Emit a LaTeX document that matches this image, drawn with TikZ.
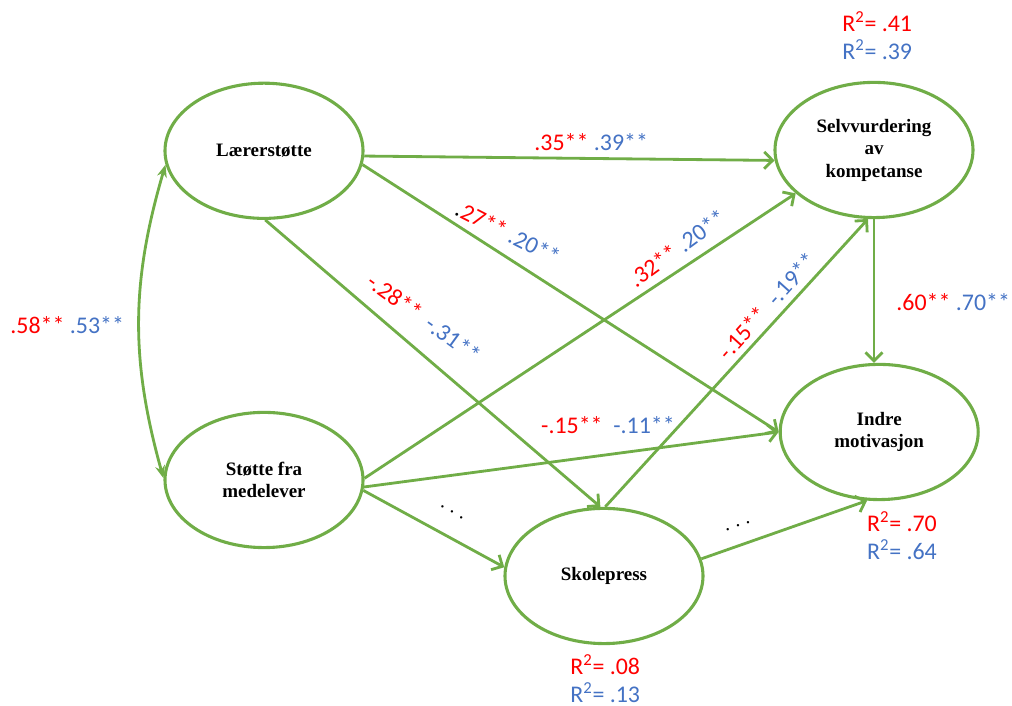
\documentclass[tikz,border=0pt]{standalone}
\usepackage{fontspec}
\setmainfont{Carlito}
\newfontfamily\factorfont{Liberation Serif}
\usetikzlibrary{shapes.geometric,arrows.meta}
\definecolor{pathgreen}{HTML}{70AD47}
\definecolor{coefred}{HTML}{FF0000}
\definecolor{coefblue}{HTML}{4472C4}
\newcommand{\redval}[1]{\textcolor{coefred}{#1}}
\newcommand{\blueval}[1]{\textcolor{coefblue}{#1}}

\begin{document}
\begin{tikzpicture}[
	% Define the style for the latent variables
	factor/.style={ellipse, draw=pathgreen, line width=2.2pt, minimum width=4.95cm, minimum height=3.38cm, inner sep=0pt, align=center, font=\factorfont\bfseries\fontsize{13.5}{16}\selectfont},
	% Define the style for the coefficients
	coef/.style={inner sep=1pt, align=center, font=\fontsize{17}{20}\selectfont},
	% Define the style for the paths
	effect/.style={draw=pathgreen, line width=2pt, -{Straight Barb[length=6pt,width=12pt]}},
	corr/.style={draw=pathgreen, line width=2pt, {Stealth[length=9pt,width=7pt]}-{Stealth[length=9pt,width=7pt]}},
	dots/.style={font=\fontsize{14}{16}\selectfont}
	]
	\useasboundingbox (0,0) rectangle (25.3,17.65);
	
	% --- VARIABLES ---
	% Format: \node[factor] (internal_name) at (x,y) {text};
	
	\node[factor] (laerer) at (6.60, 13.88) {Lærerstøtte};
	\node[factor] (stotte) at (6.60, 5.65) {Støtte fra\\medelever};
	\node[factor] (selv) at (21.85, 13.90) {Selvvurdering\\av\\kompetanse};
	\node[factor] (indre) at (21.98, 6.85) {Indre\\motivasjon};
	\node[factor] (skole) at (15.10, 3.25) {Skolepress};
	
	% --- PATHS ---
	
	\draw[corr] (laerer.188) to[bend right=16] (stotte.179);
	\draw[effect] (laerer.-3) -- (selv.186);
	\draw[effect] (laerer.-8) -- (indre.180);
	\draw[effect] (laerer.-89) -- (skole.93);
	\draw[effect] (stotte.1) -- (selv.209);
	\draw[effect] (stotte.-4) -- (indre.180);
	\draw[effect] (stotte.-6) -- (skole.175);
	\draw[effect] (skole.89) -- (selv.265);
	\draw[effect] (selv.south) -- (selv.south |- indre.north);
	\draw[effect] (skole.10) -- (indre.260);
	
	% --- COEFFICIENTS ---
	
	\node[coef] (c1) at (14.78, 14.10) {\redval{.35**} \blueval{.39**}};
	\node[coef, rotate=-27] (c2) at (12.70, 11.83) {.\redval{27**} \blueval{.20**}};
	\node[coef, rotate=-36] (c3) at (10.60, 9.70) {\redval{-.28**}\ \ \blueval{-.31**}};
	\node[coef, rotate=36] (c4) at (16.93, 11.45) {\redval{.32**} \blueval{.20**}};
	\node[coef, rotate=48] (c5) at (19.18, 10.00) {\redval{-.15**}\ \ \blueval{-.19**}};
	\node[coef] (c6) at (23.83, 10.10) {\redval{.60**} \blueval{.70**}};
	\node[coef] (c7) at (15.20, 7.03) {\redval{-.15**}\ \ \blueval{-.11**}};
	\node[coef] (c8) at (1.68, 9.53) {\redval{.58**} \blueval{.53**}};
	
	% explained variance
	\node[coef] (r2selv) at (21.93, 16.75) {\redval{R\textsuperscript{2}= .41}\\\blueval{R\textsuperscript{2}= .39}};
	\node[coef] (r2indre) at (22.55, 4.25) {\redval{R\textsuperscript{2}= .70}\\\blueval{R\textsuperscript{2}= .64}};
	\node[coef] (r2skole) at (15.13, 0.68) {\redval{R\textsuperscript{2}= .08}\\\blueval{R\textsuperscript{2}= .13}};
	
	% omitted paths
	\node[dots, rotate=-30] (d1) at (11.30, 4.85) {. . .};
	\node[dots, rotate=20] (d2) at (18.45, 4.50) {. . .};
	
\end{tikzpicture}
\end{document}
